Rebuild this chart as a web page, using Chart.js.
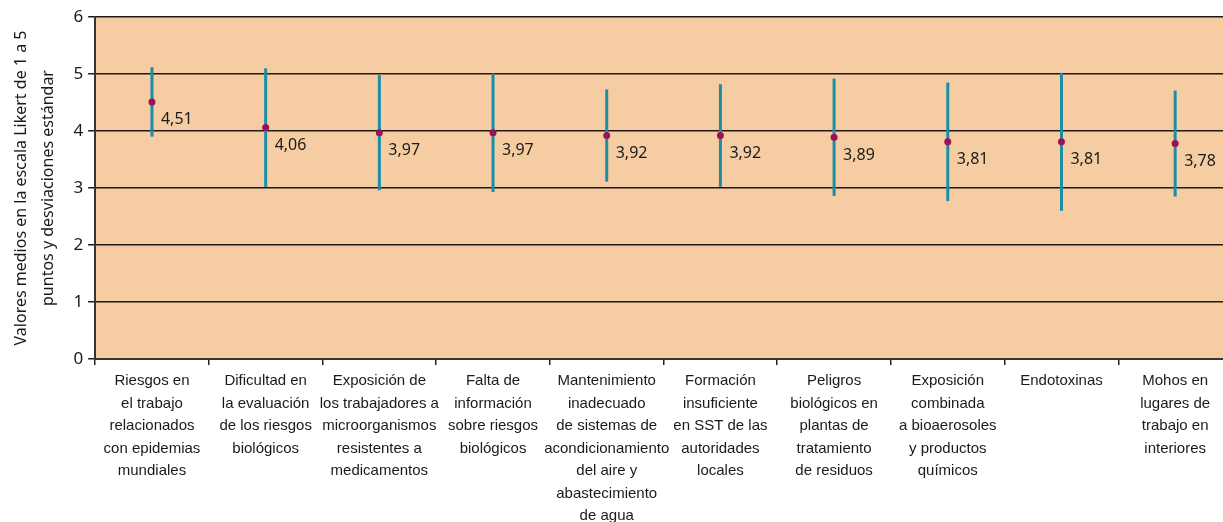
<!DOCTYPE html>
<html>
<head>
<meta charset="utf-8">
<script src="https://cdn.jsdelivr.net/npm/chart.js@4.4.1/dist/chart.umd.min.js"></script>
<style>
  html, body { margin: 0; padding: 0; background: #fff; overflow: hidden; }
  #wrap { width: 1238px; height: 522px; }
</style>
</head>
<body>
<div id="wrap"><canvas id="likertChart"></canvas></div>
<script>
// Categories (multi-line labels)
const categories = [
    ['Riesgos en', 'el trabajo', 'relacionados', 'con epidemias', 'mundiales'],
    ['Dificultad en', 'la evaluación', 'de los riesgos', 'biológicos'],
    ['Exposición de', 'los trabajadores a', 'microorganismos', 'resistentes a', 'medicamentos'],
    ['Falta de', 'información', 'sobre riesgos', 'biológicos'],
    ['Mantenimiento', 'inadecuado', 'de sistemas de', 'acondicionamiento', 'del aire y', 'abastecimiento', 'de agua'],
    ['Formación', 'insuficiente', 'en SST de las', 'autoridades', 'locales'],
    ['Peligros', 'biológicos en', 'plantas de', 'tratamiento', 'de residuos'],
    ['Exposición', 'combinada', 'a bioaerosoles', 'y productos', 'químicos'],
    ['Endotoxinas'],
    ['Mohos en', 'lugares de', 'trabajo en', 'interiores']
];

// Mean values and standard deviations
const means = [4.51, 4.06, 3.97, 3.97, 3.92, 3.92, 3.89, 3.81, 3.81, 3.78];
const stdDevs = [0.61, 1.04, 1.01, 1.04, 0.81, 0.90, 1.03, 1.04, 1.21, 0.93];

// Y axis ticks
const yTicks = [0, 1, 2, 3, 4, 5, 6];

const yTitle = ['Valores medios en la escala Likert de 1 a 5', 'puntos y desviaciones estándar'];

// Fill the plot area
const plotBackground = {
    id: 'plotBackground',
    beforeDraw(chart) {
        const { ctx, chartArea } = chart;
        ctx.save();
        ctx.fillStyle = '#f6cda3';
        ctx.fillRect(chartArea.left, chartArea.top, chartArea.right - chartArea.left, chartArea.bottom - chartArea.top);
        ctx.restore();
    }
};

// Error bars (mean +/- sd) drawn under the points
const errorBars = {
    id: 'errorBars',
    beforeDatasetsDraw(chart) {
        const { ctx, scales } = chart;
        const meta = chart.getDatasetMeta(0);
        ctx.save();
        ctx.strokeStyle = '#1a8ea6';
        ctx.lineWidth = 3;
        meta.data.forEach((pt, i) => {
            const top = scales.y.getPixelForValue(means[i] + stdDevs[i]);
            const bottom = scales.y.getPixelForValue(means[i] - stdDevs[i]);
            ctx.beginPath();
            ctx.moveTo(pt.x, top);
            ctx.lineTo(pt.x, bottom);
            ctx.stroke();
        });
        ctx.restore();
    }
};

// Value labels next to each point
const valueLabels = {
    id: 'valueLabels',
    afterDatasetsDraw(chart) {
        const { ctx } = chart;
        const meta = chart.getDatasetMeta(0);
        ctx.save();
        ctx.fillStyle = '#1a1a1a';
        ctx.font = '16px "Noto Sans"';
        ctx.textAlign = 'left';
        ctx.textBaseline = 'middle';
        meta.data.forEach((pt, i) => {
            ctx.fillText(means[i].toFixed(2).replace('.', ','), pt.x + 9, pt.y + 18);
        });
        ctx.restore();
    }
};

const ctx = document.getElementById('likertChart').getContext('2d');
new Chart(ctx, {
    type: 'line',
    data: {
        labels: categories,
        datasets: [{
            data: means,
            showLine: false,
            pointRadius: 3.5,
            pointHoverRadius: 3.5,
            pointBackgroundColor: '#a0105a',
            pointBorderColor: '#a0105a',
            pointBorderWidth: 0
        }]
    },
    options: {
        responsive: true,
        maintainAspectRatio: false,
        animation: false,
        layout: { padding: { top: 17, right: 6, left: 8, bottom: 0 } },
        plugins: {
            legend: { display: false },
            tooltip: { enabled: false }
        },
        scales: {
            x: {
                offset: true,
                afterFit(axis) {
                    // the lowest label runs off the bottom of the picture
                    axis.height = 163;
                },
                grid: {
                    offset: true,
                    drawOnChartArea: false,
                    drawTicks: true,
                    tickLength: 6,
                    color: '#222',
                    lineWidth: 1.5
                },
                border: { color: '#3a3330', width: 2 },
                ticks: {
                    autoSkip: false,
                    maxRotation: 0,
                    minRotation: 0,
                    color: '#1a1a1a',
                    padding: 5,
                    font: { family: '"Liberation Sans", sans-serif', size: 15, lineHeight: 1.5 }
                }
            },
            y: {
                min: 0,
                max: 6,
                afterBuildTicks(axis) {
                    axis.ticks = yTicks.map(v => ({ value: v }));
                },
                grid: {
                    color: '#1f1a17',
                    lineWidth: 1.5,
                    tickLength: 7
                },
                border: { color: '#3a3330', width: 2 },
                ticks: {
                    color: '#1a1a1a',
                    padding: 5,
                    font: { family: '"Noto Sans"', size: 17 }
                },
                title: {
                    display: true,
                    text: yTitle,
                    color: '#1a1a1a',
                    padding: { top: 0, bottom: 6 },
                    font: { family: '"Noto Sans"', size: 16, lineHeight: 1.7 }
                }
            }
        }
    },
    plugins: [plotBackground, errorBars, valueLabels]
});
</script>
</body>
</html>
